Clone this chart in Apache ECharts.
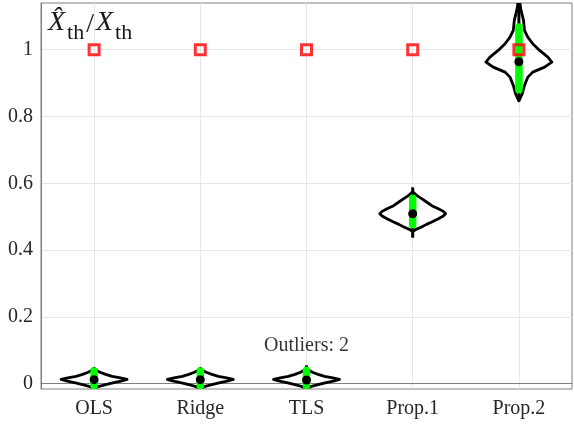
<!DOCTYPE html>
<html>
<head>
<meta charset="utf-8">
<script src="https://cdn.jsdelivr.net/npm/echarts@6/dist/echarts.min.js"></script>
<style>
  html, body { margin: 0; padding: 0; background: #fff; }
  #main { width: 574px; height: 429px; }
</style>
</head>
<body>
<div id="main"></div>
<script>
// categories and summary stats
var categories = ['OLS', 'Ridge', 'TLS', 'Prop.1', 'Prop.2'];
var trueRatio = [1, 1, 1, 1, 1];
var medians = [0.012, 0.012, 0.011, 0.509, 0.964];
var q1 = [-0.007, -0.007, -0.007, 0.476, 0.880];
var q3 = [0.038, 0.038, 0.040, 0.555, 1.068];
var whiskerLow = [-0.016, -0.016, -0.016, 0.437, 0.847];
var whiskerHigh = [0.048, 0.048, 0.055, 0.588, 1.16];
var yTicks = [0, 0.2, 0.4, 0.6, 0.8, 1];
var outlierCount = 2;

// violin outlines: value positions and relative half-widths
var violinY = [
    [-0.014, -0.008, -0.003, 0.003, 0.008, 0.0125, 0.017, 0.022, 0.028, 0.034, 0.040, 0.046],
    [-0.014, -0.008, -0.003, 0.003, 0.008, 0.0125, 0.017, 0.022, 0.028, 0.034, 0.040, 0.046],
    [-0.014, -0.008, -0.003, 0.003, 0.008, 0.0125, 0.017, 0.022, 0.028, 0.034, 0.041, 0.048],
    [0.455, 0.462, 0.469, 0.477, 0.484, 0.494, 0.502, 0.509, 0.516, 0.524, 0.533, 0.544, 0.554, 0.564, 0.575],
    [0.847, 0.868, 0.893, 0.918, 0.933, 0.948, 0.963, 0.978, 0.998, 1.018, 1.038, 1.058, 1.088, 1.12, 1.16]
];
var violinW = [
    [0, 0.15, 0.35, 0.6, 0.85, 1, 0.8, 0.55, 0.35, 0.18, 0.06, 0],
    [0, 0.15, 0.35, 0.6, 0.85, 1, 0.8, 0.55, 0.35, 0.18, 0.06, 0],
    [0, 0.15, 0.35, 0.6, 0.85, 1, 0.8, 0.55, 0.35, 0.18, 0.06, 0],
    [0, 0.1, 0.27, 0.42, 0.58, 0.78, 0.93, 1, 0.93, 0.78, 0.58, 0.42, 0.27, 0.12, 0],
    [0, 0.1, 0.17, 0.27, 0.42, 0.78, 1, 0.88, 0.63, 0.42, 0.27, 0.17, 0.14, 0.06, 0]
];

var serif = '"Liberation Serif", "Times New Roman", serif';

var boxData = categories.map(function (c, i) {
    return [i, whiskerLow[i], q1[i], medians[i], q3[i], whiskerHigh[i]];
});

function renderViolin(params, api) {
    var i = api.value(0);
    var band = api.size([1, 0])[0];
    var half = band * 0.31;
    var ys = violinY[i], ws = violinW[i];
    var right = [], left = [];
    for (var k = 0; k < ys.length; k++) {
        var p = api.coord([i, ys[k]]);
        right.push([p[0] + ws[k] * half, p[1]]);
        left.unshift([p[0] - ws[k] * half, p[1]]);
    }
    var lo = api.coord([i, api.value(1)]);
    var a = api.coord([i, api.value(2)]);
    var m = api.coord([i, api.value(3)]);
    var b = api.coord([i, api.value(4)]);
    var hi = api.coord([i, api.value(5)]);
    return {
        type: 'group',
        children: [
            { type: 'polygon', shape: { points: right.concat(left) },
              style: { fill: 'none', stroke: '#000', lineWidth: 2.8, lineJoin: 'round' } },
            { type: 'line', shape: { x1: lo[0], y1: lo[1], x2: hi[0], y2: hi[1] },
              style: { stroke: '#000', lineWidth: 3 } },
            { type: 'line', shape: { x1: a[0], y1: a[1], x2: b[0], y2: b[1] },
              style: { stroke: '#00ff00', lineWidth: 7.5, lineCap: 'round' } },
            { type: 'circle', shape: { cx: m[0], cy: m[1], r: 4.5 },
              style: { fill: '#000' } }
        ]
    };
}

var myChart = echarts.init(document.getElementById('main'), null, { renderer: 'canvas' });
var option = {
    animation: false,
    backgroundColor: '#fff',
    grid: { left: 41, right: 2, top: 3, bottom: 40, show: true, borderColor: '#808080', borderWidth: 1 },
    xAxis: {
        type: 'category',
        data: categories,
        axisLine: { show: true, lineStyle: { color: '#808080' } },
        axisTick: { show: false, alignWithLabel: true },
        splitLine: { show: true, alignWithLabel: true, lineStyle: { color: '#e6e6e6' } },
        axisLabel: { fontFamily: serif, fontSize: 20, color: '#262626', margin: 10 }
    },
    yAxis: {
        type: 'value',
        min: -0.016,
        max: 1.14,
        axisLine: { show: true, lineStyle: { color: '#808080' } },
        axisTick: { show: false, customValues: yTicks },
        splitLine: { show: true, lineStyle: { color: '#e6e6e6' } },
        axisLabel: { customValues: yTicks, fontFamily: serif, fontSize: 20, color: '#262626', margin: 8 }
    },
    graphic: [{
        type: 'text',
        left: 48,
        top: 9,
        z: 100,
        style: {
            text: '{x|X̂}{s|th}{n|/}{x|X}{s|th}',
            fill: '#1a1a1a',
            rich: {
                x: { fontFamily: serif, fontStyle: 'italic', fontSize: 28, verticalAlign: 'bottom', padding: [0, 2, 7, 0] },
                n: { fontFamily: serif, fontSize: 28, verticalAlign: 'bottom', padding: [0, 2, 5, 1] },
                s: { fontFamily: serif, fontSize: 22, verticalAlign: 'bottom', padding: [0, 1, 0, 0] }
            }
        }
    }],
    series: [
        {
            type: 'custom',
            clip: true,
            renderItem: renderViolin,
            data: boxData,
            z: 2
        },
        {
            type: 'scatter',
            data: trueRatio.map(function (v, i) { return [i, v]; }),
            symbol: 'rect',
            symbolSize: 10,
            itemStyle: { color: 'rgba(0,0,0,0)', borderColor: '#ff0000', borderWidth: 3 },
            z: 5
        },
        {
            type: 'scatter',
            data: [[2, 0.113]],
            symbolSize: 0,
            label: {
                show: true,
                position: 'inside',
                formatter: 'Outliers: ' + outlierCount,
                fontFamily: serif,
                fontSize: 20,
                color: '#000'
            },
            z: 6
        }
    ]
};
myChart.setOption(option);
</script>
</body>
</html>
